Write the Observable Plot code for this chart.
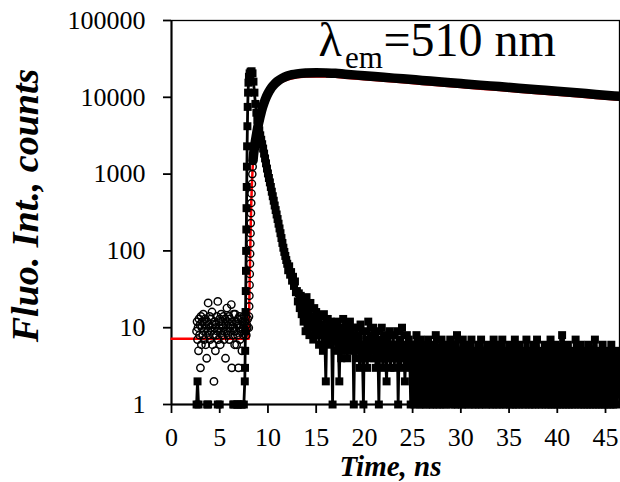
<!DOCTYPE html>
<html><head><meta charset="utf-8">
<script src="https://cdn.jsdelivr.net/npm/d3@7"></script>
<script src="https://cdn.jsdelivr.net/npm/@observablehq/plot@0.6"></script>
<style>body{margin:0;background:#fff}</style>
</head><body><div id="chart"></div>
<script>
// ---- tick labels ----
const xTicks = [0, 5, 10, 15, 20, 25, 30, 35, 40, 45];
const yTicks = [1, 10, 100, 1000, 10000, 100000];

// ---- decay (open circles): pre-rise background, t = 2.6 .. 7.9 step 0.05 ----
const decNoiseStart = 2.6, decNoiseStep = 0.05;
const decNoiseY = [
  9,12,7,10,5,13,8,11,3,14,6,10,12,8,15,9,7,11,13,6,
  10,4,12,9,21,8,11,14,7,10,13,9,16,6,11,8,2,12,10,5,
  11,8,14,9,22,7,12,10,13,6,9,15,11,8,12,10,14,7,9,13,
  4,11,9,18,12,8,10,14,7,13,9,11,20,3,12,8,10,15,9,6,
  15,9,12,6,11,8,13,3,10,14,7,11,9,13,5,12,10,8,14,11,
  12,9,14,8,11,10,13];
// rising edge (circles)
const decRiseT = [8.02,8.04,8.06,8.08,8.1,8.12,8.14,8.16,8.18,8.2,8.22,8.24,8.27,8.3,8.34,8.38,8.42,8.45];
const decRiseY = [10,14,19,26,36,50,68,92,125,170,230,310,420,560,750,1000,1250,1500];
// main decay (dense circles -> thick band)
const decT = [8.45,8.5,8.6,8.7,8.8,8.9,9.0,9.1,9.2,9.3,9.4,9.5,9.6,9.8,10.0,10.25,10.5,10.75,11.0,11.5,12.0,12.5,13.0,14.0,15.0,16.0,17.0,18,20,22,24,26,28,30,32,34,36,38,40,42,44,46.45];
const decY = [1500,1750,2200,2700,3200,3800,4400,5000,5700,6400,7100,7800,8500,9900,11200,12700,14000,15200,16200,17800,18900,19700,20200,20700,20900,20800,20550,20000,19100,18200,17400,16600,15850,15100,14400,13800,13150,12550,12000,11450,10900,10300];

// ---- fit (red line) ----
const fitT = [0,8.0,8.02,8.06,8.1,8.14,8.18,8.22,8.27,8.34,8.42,8.5,8.7,9.0,9.3,9.6,10.0,10.5,11.0,11.5,12.0,13.0,14.0,15.0,16.0,17.0,18,20,22,24,26,28,30,32,34,36,38,40,42,44,46.45];
const fitY = [7.2,7.2,10,19,36,68,125,230,420,750,1250,1650,2500,4000,5800,7650,10000,12600,14580,16020,17010,18180,18630,18810,18720,18500,18000,17190,16380,15660,14940,14270,13590,12960,12420,11840,11300,10800,10300,9810,9270];

// ---- IRF (filled squares) ----
const irfPreStart = 2.6, irfPreStep = 0.1;
const irfPreY = [1,2,1,0,0,0,0,0,0,0, 0,1,1,0,0,0,0,0,0,0,
  0,0,1,0,1,0,0,0,0,0, 0,0,0,0,0,0,0,0,1,1,
  0,0,1,1,0,0,1,1,0,1];
const irfRiseT = [7.6,7.62,7.64,7.66,7.68,7.7,7.72,7.74,7.76,7.78,7.8,7.82,7.84,7.87,7.9,7.94,7.98,8.03];
const irfRiseY = [2,3,5,9,16,30,55,100,190,360,680,1250,2300,4200,7500,11500,15500,18500];
const irfMainStart = 8.1, irfMainStep = 0.1;
const irfMainY = [20500,21500,21800,20500,16000,11500,8200,6300,5100,
  4300,3700,3200,2800,2450,2150,1850,1600,1380,1180,
  1020,890,780,680,590,515,450,390,340,298,
  260,226,196,170,147,127,110,97,86,76,
  68,56,63,49,53,41,46,35,40,29,
  30,22,28,18,26,15,24,12,20,9,
  25,11,17,8,21,10,14,7,18,9];
const irfTailStart = 15.0, irfTailStep = 0.1;
const irfTailY = [
  16,8,12,6,14,9,11,5,15,7,2,10,13,6,9,12,8,1,11,7,
  9,5,12,6,2,10,4,8,13,5,7,11,4,9,6,12,5,8,10,1,
  7,4,10,5,8,3,11,6,4,1,9,5,7,3,12,6,4,8,5,10,
  4,8,3,9,5,1,7,4,10,3,6,8,4,2,7,5,9,3,6,4,
  8,3,6,4,9,1,5,7,3,10,4,6,2,5,8,3,7,4,1,6,
  3,6,1,4,8,2,5,1,7,3,1,5,2,6,1,4,7,2,1,5,
  3,1,6,2,8,1,4,5,1,3,7,2,1,4,6,1,3,5,2,7,
  1,4,2,6,1,3,8,1,5,2,4,1,7,3,1,5,2,6,1,4,
  2,7,1,3,5,1,4,2,6,1,3,7,1,4,2,5,1,3,6,2,
  1,5,3,1,7,2,4,1,6,3,1,4,2,7,1,5,3,1,4,2,
  6,1,3,5,1,2,7,1,4,3,1,6,2,4,1,5,3,1,7,2,
  4,1,5,2,1,6,3,1,4,7,2,1,5,3,1,4,2,6,1,3,
  5,1,2,7,1,4,3,1,6,2,1,5,3,1,4,8,1,2,5,1,
  3,6,1,4,2,1,5,3,1,7,2,4,1,3,6,1,2,5,1,4,
  2,1,6,3,1,4,5,1,2,7,1,3,4,1,5,2,1,6,3,1,
  4,2,1,5,3,1,6,2,1,4,3,1,5,2];

// ---- text ----
const xLabel = "Time, ns";
const yLabel = "Fluo. Int., counts";
const annot = {lam: "λ", sub: "em", rest: "=510 nm"};

// ---- build tables ----
const onGrid = (start, step, ys) => ys.map((v, i) => ({t: +(start + i * step).toFixed(3), v}));
const pairs = (ts, ys) => ts.map((t, i) => ({t, v: ys[i]}));
const decNoise = onGrid(decNoiseStart, decNoiseStep, decNoiseY);
const decRise = pairs(decRiseT, decRiseY);
const decMain = pairs(decT, decY);
const fit = pairs(fitT, fitY);
const irf = [
  ...onGrid(irfPreStart, irfPreStep, irfPreY),
  ...pairs(irfRiseT, irfRiseY),
  ...onGrid(irfMainStart, irfMainStep, irfMainY),
  ...onGrid(irfTailStart, irfTailStep, irfTailY)
];
const irfLate = irf.filter(d => d.t >= 24.9);
const pos = v => (v > 0 ? v : NaN);

const serif = "'Liberation Serif', 'Times New Roman', serif";
const chart = Plot.plot({
  width: 620, height: 482,
  marginLeft: 171, marginRight: 1, marginTop: 20, marginBottom: 78,
  style: {fontFamily: serif, fontSize: "26px", color: "black", background: "white"},
  x: {domain: [0, 46.45]},
  y: {type: "log", domain: [1, 100000]},
  marks: [
    Plot.frame({stroke: "black", strokeWidth: 1.3}),
    Plot.axisX({ticks: xTicks, tickFormat: d => String(d), tickSize: 9, tickPadding: 14, strokeWidth: 1.8, fontSize: 26, fontFamily: serif, label: null}),
    Plot.axisY({ticks: yTicks, tickFormat: d => String(d), tickSize: 8, tickPadding: 18, strokeWidth: 1.8, fontSize: 26, fontFamily: serif, label: null}),
    Plot.ruleX([0], {strokeWidth: 2}),
    Plot.ruleY([1], {strokeWidth: 2}),
    // fit
    Plot.line(fit, {x: "t", y: "v", stroke: "red", strokeWidth: 2.5}),
    // decay
    Plot.dot(decNoise, {x: "t", y: "v", r: 3.7, stroke: "black", strokeWidth: 1.45, fill: "none"}),
    Plot.dot(decRise, {x: "t", y: "v", r: 3.6, stroke: "black", strokeWidth: 1.4, fill: "none"}),
    Plot.line(decMain, {x: "t", y: "v", stroke: "black", strokeWidth: 9.5, curve: "monotone-x", strokeLinecap: "round"}),
    // IRF
    Plot.line(irf, {x: "t", y: d => pos(d.v), stroke: "black", strokeWidth: 2.8}),
    Plot.line(irfLate, {x: "t", y: d => pos(d.v), stroke: "black", strokeWidth: 5.5}),
    Plot.dot(irf, {x: "t", y: d => pos(d.v), symbol: "square", r: 4.5, fill: "black", stroke: "none"}),
    // labels
    Plot.text([yLabel], {text: d => d, frameAnchor: "left", rotate: -90, dx: -146, dy: -7, fontSize: 38, fontWeight: "bold", fontStyle: "italic", textAnchor: "middle", lineAnchor: "middle"}),
    Plot.text([xLabel], {text: d => d, frameAnchor: "bottom", dy: 62, dx: -5, fontSize: 29, fontWeight: "bold", fontStyle: "italic", textAnchor: "middle", lineAnchor: "middle"}),
    Plot.text([{t: 15.24, v: 35000, s: annot.lam}], {x: "t", y: "v", text: "s", fontSize: 48, textAnchor: "start", lineAnchor: "bottom"}),
    Plot.text([{t: 18.0, v: 24400, s: annot.sub}], {x: "t", y: "v", text: "s", fontSize: 31, textAnchor: "start", lineAnchor: "bottom"}),
    Plot.text([{t: 21.98, v: 35000, s: annot.rest}], {x: "t", y: "v", text: "s", fontSize: 48, textAnchor: "start", lineAnchor: "bottom"})
  ]
});
document.getElementById("chart").appendChild(chart);
</script>
</body></html>
